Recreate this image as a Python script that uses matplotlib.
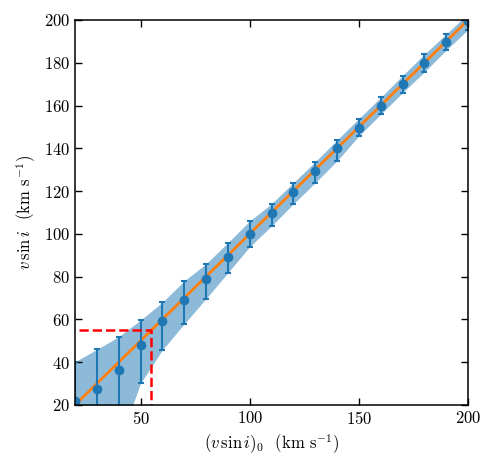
import matplotlib
matplotlib.use('Agg')
import matplotlib.pyplot as plt
import numpy as np

plt.rcParams['font.family'] = 'serif'
plt.rcParams['font.serif'] = ['cmr10']
plt.rcParams['mathtext.fontset'] = 'cm'
plt.rcParams['axes.formatter.use_mathtext'] = True

# input vsini (km/s)
v0 = np.array([20, 30, 40, 50, 60, 70, 80, 90, 100, 110, 120, 130, 140, 150, 160, 170, 180, 190, 200])
# recovered vsini
v_med = np.array([22.0, 27.6, 36.4, 48.0, 59.2, 69.1, 78.9, 89.4, 99.9, 109.6, 119.6, 129.5, 140.0,
                  149.6, 159.8, 170.1, 179.9, 189.7, 199.3])
v_low = np.array([5.0, 8.0, 2.0, 30.1, 45.7, 57.9, 69.7, 81.8, 94.0, 103.7, 114.0, 123.9, 134.1,
                  145.8, 155.9, 166.0, 175.7, 185.9, 195.5])
v_high = np.array([40.2, 46.0, 51.9, 59.7, 68.0, 78.0, 86.0, 95.9, 106.0, 114.1, 123.9, 133.7, 143.9,
                   153.9, 163.8, 174.0, 184.0, 193.4, 203.0])

# detection limit
v_lim = 55

fig = plt.figure(figsize=(4.98, 4.69), dpi=100)
ax = fig.add_axes([0.1506, 0.1365, 0.7892, 0.8209])

ax.fill_between(v0, v_low, v_high, color='C0', alpha=0.5, linewidth=0)
ax.plot([20, 200], [20, 200], color='C1', lw=2)
ax.errorbar(v0, v_med, yerr=[v_med - v_low, v_high - v_med], fmt='o', color='C0',
            ms=6, elinewidth=1.5, capsize=2, capthick=1.5)
ax.plot([22, v_lim, v_lim], [v_lim, v_lim, 20], color='red', ls='--', lw=1.8)

ax.set_xlim(20, 200)
ax.set_ylim(20, 200)
ax.set_xticks([50, 100, 150, 200])
ax.set_yticks(np.arange(20, 201, 20))
ax.tick_params(direction='in', top=True, right=True, length=5, width=1, labelsize=12)
for s in ax.spines.values():
    s.set_linewidth(1.1)

ax.set_xlabel(r'$(v\,\sin i)_0$  (km s$^{-1}$)', fontsize=12)
ax.set_ylabel(r'$v\,\sin i$  (km s$^{-1}$)', fontsize=12)

fig.savefig('out.png', dpi=100)
